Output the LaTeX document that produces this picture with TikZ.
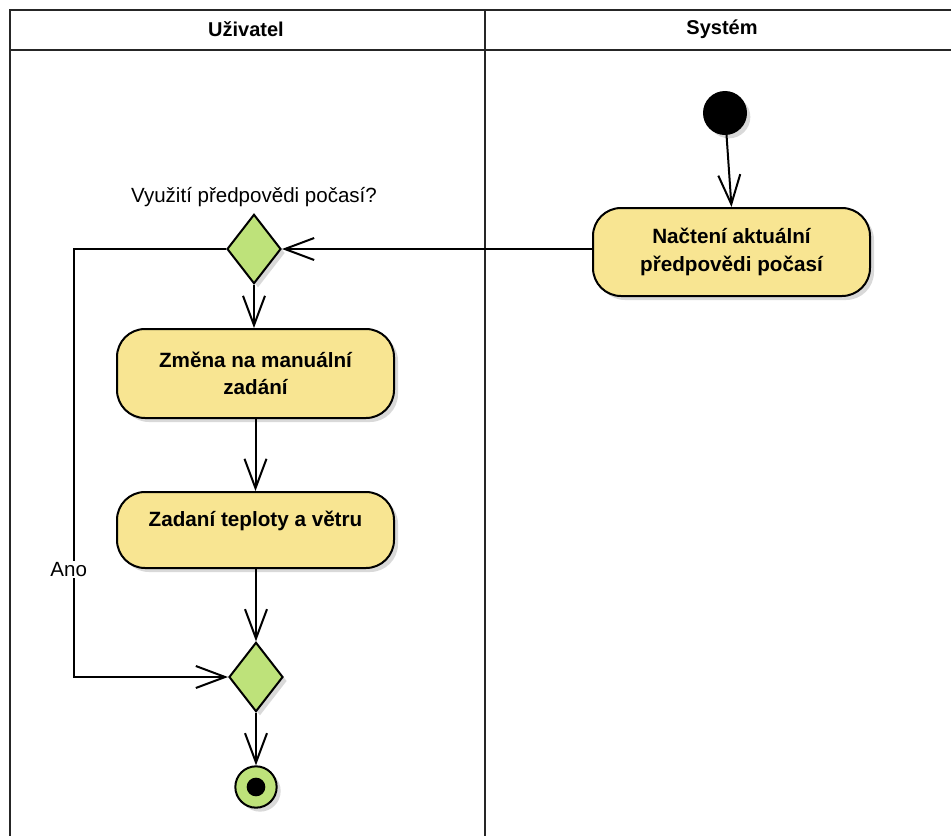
\documentclass[tikz,border=0pt]{standalone}
\usepackage{fontspec}
\setmainfont{Liberation Sans}
\usetikzlibrary{shapes.geometric,arrows.meta,shadows}
\definecolor{actfill}{HTML}{F8E592}
\definecolor{decfill}{HTML}{BEE27A}
\definecolor{shadecol}{HTML}{D9D9D9}
\begin{document}
\begin{tikzpicture}[x=0.75pt,y=-0.75pt,
  lane/.style={line width=1.5pt, draw=black!85},
  lanetitle/.style={font=\bfseries\fontsize{15}{17}\selectfont},
  shade/.style={drop shadow={shadow xshift=3pt,shadow yshift=-3pt,fill=shadecol,opacity=1}},
  action/.style={draw, line width=1.5pt, fill=actfill, rounded corners=21pt,
    minimum width=207.75pt, align=center, inner sep=0pt,
    font=\bfseries\fontsize{15.5}{20.5}\selectfont, shade},
  decision/.style={diamond, draw, line width=1.5pt, fill=decfill,
    minimum width=40.5pt, minimum height=52pt, inner sep=0pt, shade},
  initial/.style={circle, fill=black, draw, line width=1pt, minimum size=32pt, inner sep=0pt, shade},
  final/.style={circle, fill=decfill, draw, line width=1.5pt, minimum size=31pt, inner sep=0pt, shade},
  finaldot/.style={circle, fill=black, minimum size=14pt, inner sep=0pt},
  flow/.style={line width=1.5pt, line join=miter, -{Straight Barb[length=22pt,width=16.5pt,line width=1.5pt]}},
  note/.style={font=\fontsize{15.4}{18}\selectfont, inner sep=1pt},
]
\useasboundingbox (0,0) rectangle (951,836);
\fill[white] (0,0) rectangle (951,836);

% swimlane frame
\draw[lane] (10,836) -- (10,10) -- (951,10);
\draw[lane] (10,50) -- (951,50);
\draw[lane] (485,10) -- (485,836);
\node[lanetitle] (laneUser) at (246,29) {Uživatel};
\node[lanetitle] (laneSys) at (722,29) {Systém};

% activity nodes
\node[initial] (start) at (725,113) {};
\node[action, minimum height=66pt] (load) at (731.5,252) {Načtení aktuální\\předpovědi počasí};
\node[decision] (d1) at (254,249) {};
\node[note, anchor=south] (q1) at (254,208) {Využití předpovědi počasí?};
\node[action, minimum height=66.75pt] (manual) at (255.5,373.5) {Změna na manuální\\zadání};
\node[action, minimum height=57pt] (enter) at (255.5,530) {};
\node[font=\bfseries\fontsize{15.5}{20.5}\selectfont, inner sep=0pt] (enterText) at (255.5,521) {Zadaní teploty a větru};
\node[decision] (d2) at (256,677) {};
\node[final] (stop) at (256,787) {};
\node[finaldot] (stopDot) at (stop.center) {};
\coordinate (loop) at (74,249);

% control flows
\draw[flow] (start) -- (load.north);
\draw[flow] (d1.east -| load.west) -- (d1.east);
\draw[flow] (d1.south) -- (manual.north -| d1.south);
\draw[flow] (manual.south) -- (enter.north);
\draw[flow] (enter.south -| d2.north) -- (d2.north);
\draw[flow] (d2.south) -- (stop.north);
\draw[flow] (d1.west) -- (loop) |- node[pos=0.374, note, fill=white, xshift=-4pt] (ano) {Ano} (d2.west);
\end{tikzpicture}
\end{document}
